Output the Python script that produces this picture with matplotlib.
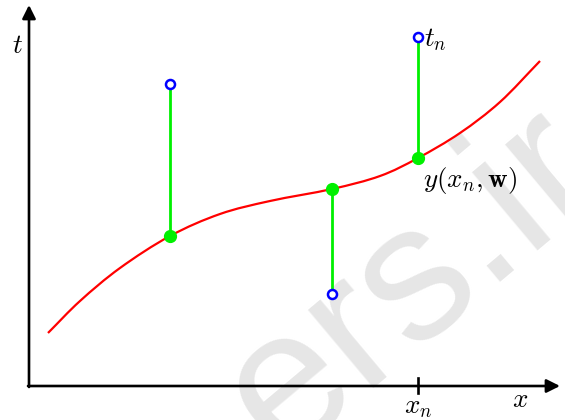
import matplotlib
matplotlib.use("Agg")
import matplotlib.pyplot as plt
from matplotlib.path import Path
from matplotlib.patches import PathPatch

plt.rcParams['mathtext.fontset'] = 'cm'

# Data (in image-like units: x to the right, y downward)
curve_x = [48, 80, 120, 170, 220, 270, 332, 380, 418, 460, 500, 540]
curve_y = [333, 301, 268, 236, 214, 201, 189, 176, 158, 133, 102, 61]

pts_x = [170, 332, 418]          # x positions of the observations
target_y = [84, 294, 37]         # observed t values (blue open circles)
pred_y = [236, 189, 158]         # model y(x, w) values (green dots)

axis_origin = (29, 386)
x_axis_end = 560
y_axis_end = 5
xn_tick = 418

fig = plt.figure(figsize=(5.65, 4.2), dpi=100)
ax = fig.add_axes([0, 0, 1, 1])
ax.set_xlim(0, 565)
ax.set_ylim(420, 0)
ax.axis('off')

# Watermark
ax.text(280, 459, "ers.ir", rotation=40, rotation_mode='anchor', ha='left', va='baseline',
        fontsize=139, color='#e6e6e6', family='Liberation Sans', zorder=0, clip_on=True)

# Axes arrows
ax.annotate('', xy=(x_axis_end, axis_origin[1]), xytext=(axis_origin[0] - 1, axis_origin[1]),
            arrowprops=dict(arrowstyle='-|>', lw=1.9, color='black', mutation_scale=20,
                            shrinkA=0, shrinkB=0), zorder=2)
ax.annotate('', xy=(axis_origin[0], y_axis_end), xytext=(axis_origin[0], axis_origin[1] + 1),
            arrowprops=dict(arrowstyle='-|>', lw=1.9, color='black', mutation_scale=20,
                            shrinkA=0, shrinkB=0), zorder=2)
ax.plot([xn_tick, xn_tick], [378, 393], color='black', lw=1.9, zorder=2)

# Smooth curve through the read points (Catmull-Rom rendered as Bezier segments)
P = list(zip(curve_x, curve_y))
verts = [P[0]]
codes = [Path.MOVETO]
for i in range(len(P) - 1):
    p0 = P[i - 1] if i > 0 else (2 * P[0][0] - P[1][0], 2 * P[0][1] - P[1][1])
    p1, p2 = P[i], P[i + 1]
    p3 = P[i + 2] if i + 2 < len(P) else (2 * P[-1][0] - P[-2][0], 2 * P[-1][1] - P[-2][1])
    c1 = (p1[0] + (p2[0] - p0[0]) / 6, p1[1] + (p2[1] - p0[1]) / 6)
    c2 = (p2[0] - (p3[0] - p1[0]) / 6, p2[1] - (p3[1] - p1[1]) / 6)
    verts += [c1, c2, p2]
    codes += [Path.CURVE4] * 3
ax.add_patch(PathPatch(Path(verts, codes), fill=False, edgecolor='red', lw=1.6, zorder=3))

# Residual lines
for x, t, y in zip(pts_x, target_y, pred_y):
    ax.plot([x, x], [t, y], color='#00f000', lw=2.0, zorder=4)

ax.plot(pts_x, pred_y, 'o', color='#00f000', ms=8.5, zorder=5)
ax.plot(pts_x, target_y, 'o', mfc='white', mec='#0000ff', mew=1.8, ms=6.5, zorder=6)

# Labels
ax.text(17, 46, r'$t$', fontsize=19.5, ha='center', va='center')
ax.text(424, 40, r'$t_n$', fontsize=19.5, ha='left', va='center')
ax.text(423, 181, r'$y(x_n,\mathbf{w})$', fontsize=19.5, ha='left', va='center')
ax.text(418, 407, r'$x_n$', fontsize=19.5, ha='center', va='center')
ax.text(520, 400, r'$x$', fontsize=19.5, ha='center', va='center')

fig.savefig('out.png', dpi=100)
